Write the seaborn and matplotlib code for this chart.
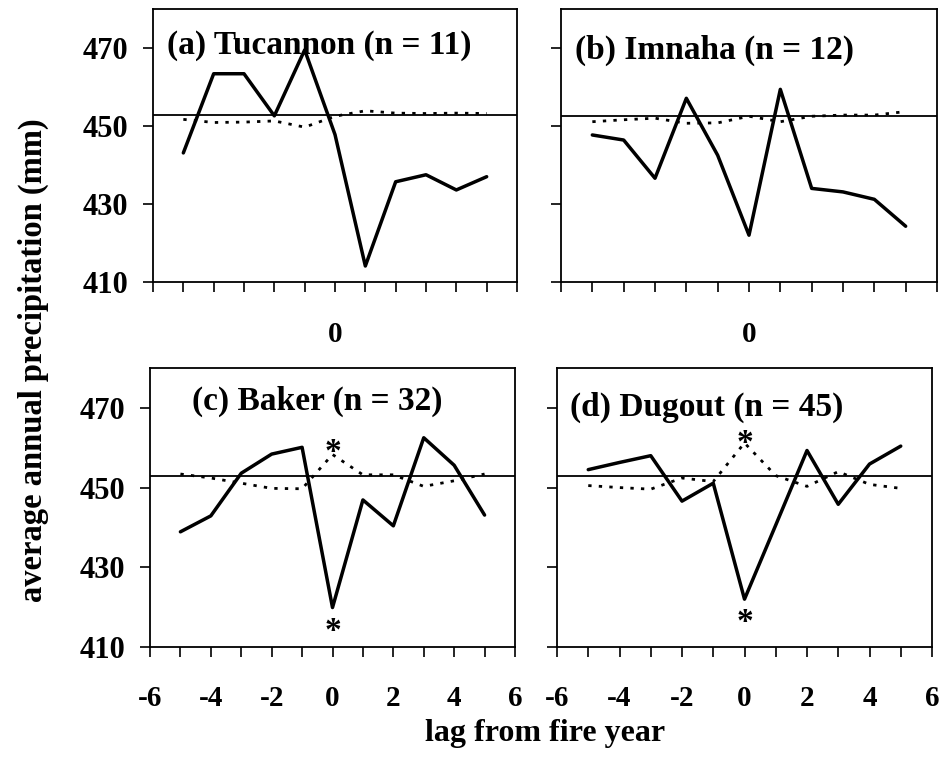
import numpy as np
import pandas as pd
import matplotlib
matplotlib.use("Agg")
import matplotlib.pyplot as plt
import matplotlib.transforms as mtransforms
import seaborn as sns

# ---------------- data ----------------
lags = [-5, -4, -3, -2, -1, 0, 1, 2, 3, 4, 5]
titles = ["(a) Tucannon (n = 11)", "(b) Imnaha (n = 12)",
          "(c) Baker (n = 32)", "(d) Dugout (n = 45)"]
observed_a = [443.1, 463.4, 463.4, 452.6, 469.5, 447.8, 414.1, 435.7, 437.5, 433.6, 437.0]
observed_b = [447.7, 446.4, 436.6, 457.1, 442.5, 422.0, 459.4, 434.0, 433.1, 431.2, 424.3]
observed_c = [438.9, 442.9, 453.6, 458.4, 460.1, 419.9, 446.9, 440.4, 462.5, 455.6, 443.1]
observed_d = [454.5, 456.3, 458.0, 446.6, 451.1, 422.0, 440.6, 459.3, 445.8, 455.9, 460.4]
expected_a = [451.7, 450.9, 451.0, 451.3, 449.7, 452.5, 453.9, 453.3, 453.2, 453.3, 453.2]
expected_b = [451.1, 451.6, 452.0, 450.7, 450.8, 452.5, 451.1, 452.5, 452.8, 452.8, 453.7]
expected_c = [453.4, 452.4, 451.1, 449.8, 449.7, 458.3, 453.2, 453.2, 450.3, 451.7, 453.4]
expected_d = [450.5, 450.0, 449.6, 452.4, 451.5, 461.2, 453.0, 450.3, 454.0, 450.8, 449.8]
mean_precip = [452.8, 452.6, 452.8, 452.8]
# significance markers: (panel index, lag, value)
sig_marks = [(2, 0, 460.6), (2, 0, 415.7), (3, 0, 462.9), (3, 0, 417.8)]

y_ticks = [410, 430, 450, 470]
x_ticks = list(range(-6, 7))

observed = [observed_a, observed_b, observed_c, observed_d]
expected = [expected_a, expected_b, expected_c, expected_d]

# ---------------- style ----------------
sns.set_theme(style="ticks")
plt.rcParams['font.family'] = ['Liberation Serif', 'DejaVu Serif']
plt.rcParams['font.weight'] = 'bold'
plt.rcParams['axes.unicode_minus'] = False
plt.rcParams['text.color'] = 'black'
plt.rcParams['axes.labelcolor'] = 'black'
plt.rcParams['xtick.color'] = 'black'
plt.rcParams['ytick.color'] = 'black'

fig = plt.figure(figsize=(9.4, 7.58), dpi=100)
W, H = 940, 758
boxes = [(153, 517, 9, 282), (561, 937, 9, 282),
         (150, 515, 368, 647), (557, 932, 368, 647)]
title_pos = [(0.038, 0.868), (0.037, 0.85), (0.114, 0.879), (0.035, 0.86)]

axes = []
for i, (l, r, t, b) in enumerate(boxes):
    ax = fig.add_axes([l / W, (H - b) / H, (r - l) / W, (b - t) / H])
    axes.append(ax)
    df = pd.DataFrame({"lag": lags, "obs": observed[i], "exp": expected[i]})
    sns.lineplot(data=df, x="lag", y="exp", ax=ax, color="black",
                 linewidth=2.0, linestyle=(0, (1.2, 2.6)))
    sns.lineplot(data=df, x="lag", y="obs", ax=ax, color="black",
                 linewidth=2.5)
    ax.axhline(mean_precip[i], color="black", linewidth=1.3)
    ax.set_xlim(-6, 6)
    ax.set_ylim(410, 480)
    ax.set_xticks(x_ticks)
    ax.set_yticks(y_ticks)
    for s in ax.spines.values():
        s.set_linewidth(1.3)
        s.set_color("black")
    ax.tick_params(axis="both", direction="out", length=7, width=1.2,
                   color="black", labelsize=22, labelcolor="black")
    ax.tick_params(axis="x", labelsize=21)
    ax.tick_params(axis="y", pad=11)
    if i >= 2:
        ax.set_xticklabels([str(v) if (k % 2 == 0) else "" for k, v in
                            enumerate(x_ticks)])
        ax.tick_params(axis="x", pad=20)
    else:
        ax.set_xticklabels(["0" if v == 0 else "" for v in x_ticks])
        ax.tick_params(axis="x", pad=21)
    if i % 2 == 0:
        ax.set_yticklabels([str(v) for v in y_ticks])
    else:
        ax.set_yticklabels([])
    ax.set_xlabel("")
    ax.set_ylabel("")
    ax.text(title_pos[i][0], title_pos[i][1], titles[i], transform=ax.transAxes,
            ha="left", va="center", fontsize=24, fontweight="bold")

for (pi, lx, val) in sig_marks:
    tr = mtransforms.offset_copy(axes[pi].transData, fig=fig, x=0, y=-7,
                                 units="dots")
    axes[pi].text(lx, val, "*", ha="center", va="center", fontsize=24,
                  fontweight="bold", color="black", transform=tr)

fig.text(545 / W, 1 - 733 / H, "lag from fire year", ha="center", va="center",
         fontsize=23, fontweight="bold")
fig.text(33 / W, 1 - 360 / H, "average annual precipitation (mm)", ha="center",
         va="center", rotation=90, fontsize=23.5, fontweight="bold")

fig.savefig("out.png", dpi=100)
